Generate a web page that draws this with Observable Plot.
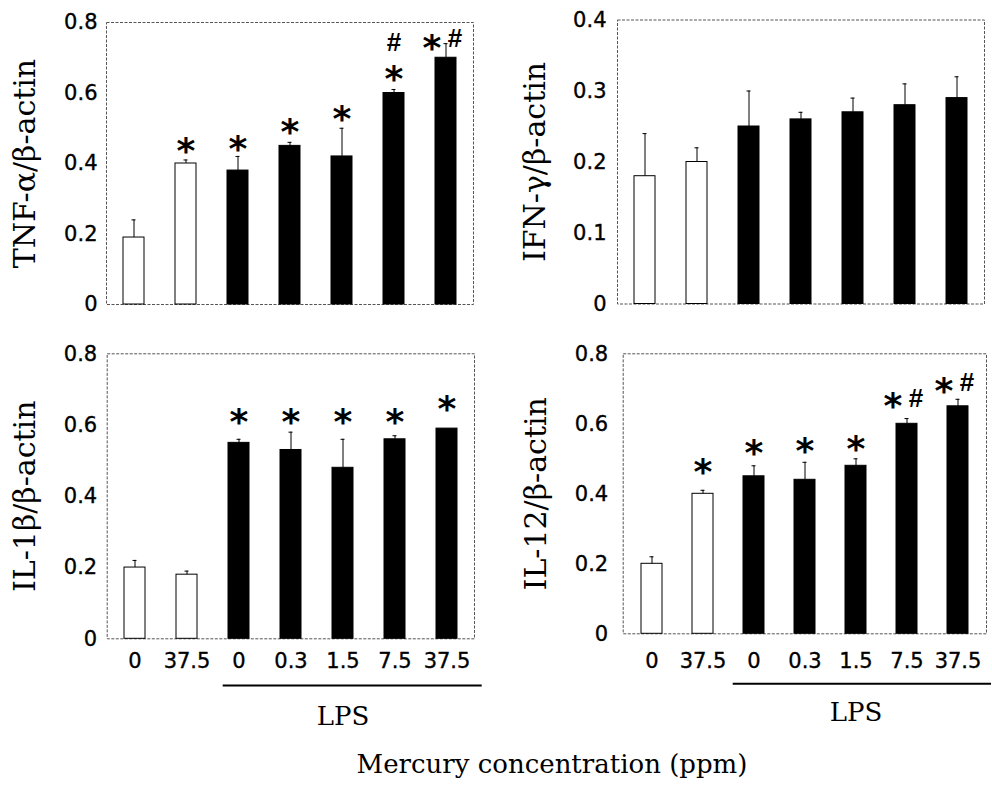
<!DOCTYPE html>
<html>
<head>
<meta charset="utf-8">
<script src="https://cdn.jsdelivr.net/npm/d3@7"></script>
<script src="https://cdn.jsdelivr.net/npm/@observablehq/plot@0.6"></script>
<style>
  html, body { margin: 0; padding: 0; background: white; }
  #wrap { position: relative; width: 992px; height: 785px; overflow: hidden; background: white; }
  #wrap > svg, #wrap > figure { position: absolute; margin: 0; }
  #wrap [aria-label$="tick label"] text { stroke: black; stroke-width: 0.35px; }
</style>
</head>
<body>
<div id="wrap"></div>
<script>
// ---- data ----
const tickLabels = ["0", "37.5", "0", "0.3", "1.5", "7.5", "37.5"];
const groups = ["Hg", "Hg", "LPS", "LPS", "LPS", "LPS", "LPS"];

const tnfMean  = [0.19, 0.40, 0.38, 0.45, 0.42, 0.60, 0.70];
const tnfUpper = [0.24, 0.41, 0.42, 0.46, 0.50, 0.61, 0.74];
const tnfStar  = [null, 0.46, 0.465, 0.513, 0.55, 0.664, 0.752];
const tnfHash  = [null, null, null, null, null, 0.745, 0.757];
const tnfTicks = [0, 0.2, 0.4, 0.6, 0.8];

const ifnMean  = [0.18, 0.20, 0.25, 0.26, 0.27, 0.28, 0.29];
const ifnUpper = [0.24, 0.22, 0.30, 0.27, 0.29, 0.31, 0.32];
const ifnStar  = [null, null, null, null, null, null, null];
const ifnHash  = [null, null, null, null, null, null, null];
const ifnTicks = [0, 0.1, 0.2, 0.3, 0.4];

const il1Mean  = [0.20, 0.18, 0.55, 0.53, 0.48, 0.56, 0.59];
const il1Upper = [0.22, 0.19, 0.56, 0.58, 0.56, 0.57, 0.59];
const il1Star  = [null, null, 0.632, 0.632, 0.632, 0.632, 0.669];
const il1Hash  = [null, null, null, null, null, null, null];
const il1Ticks = [0, 0.2, 0.4, 0.6, 0.8];

const il12Mean  = [0.20, 0.40, 0.45, 0.44, 0.48, 0.60, 0.65];
const il12Upper = [0.22, 0.41, 0.48, 0.49, 0.50, 0.615, 0.67];
const il12Star  = [null, 0.486, 0.541, 0.547, 0.552, 0.676, 0.719];
const il12Hash  = [null, null, null, null, null, 0.674, 0.719];
const il12Ticks = [0, 0.2, 0.4, 0.6, 0.8];

const titles = ["TNF-α/β-actin", "IFN-γ/β-actin", "IL-1β/β-actin", "IL-12/β-actin"];
const groupLabel = "LPS";
const xTitle = "Mercury concentration (ppm)";

// ---- drawing ----
const wrap = document.getElementById("wrap");
const fmt = d => d === 0 ? "0" : String(d);

function panel(cfg) {
  const data = cfg.mean.map((m, i) => ({i, m, u: cfg.upper[i], g: groups[i], s: cfg.star[i], h: cfg.hash[i]}));
  const errs = data.filter(d => d.u > d.m);
  const side = d => d.s != null && d.h != null && Math.abs(d.s - d.h) < 0.05;
  const stars = data.filter(d => d.s != null);
  const hashes = data.filter(d => d.h != null);
  const starOpts = {x: "i", y: "s", text: () => "*", fontSize: 36, fontWeight: "bold", fontFamily: "DejaVu Sans", lineAnchor: "middle", dy: 9};
  const hashOpts = {x: "i", y: "h", text: () => "#", fontSize: 26, fontWeight: "bold", fontFamily: "Liberation Sans", lineAnchor: "middle", dy: 1};
  const marks = [
    Plot.frame({stroke: "#555", strokeWidth: 1, strokeDasharray: "3,1.5"}),
    Plot.axisY({ticks: cfg.ticks, tickSize: 0, tickPadding: cfg.yPad, tickFormat: fmt, label: null, fontSize: 21, fontFamily: "DejaVu Sans"}),
    Plot.barY(data.filter(d => d.g !== "LPS"), {x: "i", y: "m", fill: "white", stroke: "black", strokeWidth: 1}),
    Plot.barY(data.filter(d => d.g === "LPS"), {x: "i", y: "m", fill: "black", stroke: "black", strokeWidth: 1}),
    Plot.ruleX(errs, {x: "i", y1: "m", y2: "u", stroke: "black", strokeWidth: 1}),
    Plot.tickY(errs, {x: "i", y: "u", insetLeft: 8.5, insetRight: 8.5, stroke: "black", strokeWidth: 1}),
    Plot.text(stars.filter(d => !side(d)), starOpts),
    Plot.text(stars.filter(side), {...starOpts, dx: -14}),
    Plot.text(hashes.filter(d => !side(d)), hashOpts),
    Plot.text(hashes.filter(side), {...hashOpts, dx: 9}),
    Plot.text([cfg.title], {frameAnchor: "left", rotate: -90, dx: cfg.titleDx, textAnchor: "middle", lineAnchor: "middle", fontSize: 30, fontFamily: "DejaVu Serif"})
  ];
  if (cfg.showX) {
    marks.push(Plot.axisX({tickSize: 0, tickPadding: cfg.xPad, tickFormat: i => tickLabels[i], label: null, fontSize: 21, fontFamily: "DejaVu Sans"}));
  }
  if (cfg.lps) {
    marks.push(Plot.ruleY([0], {dy: cfg.lps.ruleDy, insetLeft: cfg.lps.insetLeft, insetRight: cfg.lps.insetRight, stroke: "black", strokeWidth: 2}));
    marks.push(Plot.text([{i: 4, y: 0}], {x: "i", y: "y", text: () => groupLabel, dy: cfg.lps.textDy, fontSize: 26, fontFamily: "DejaVu Serif", lineAnchor: "middle"}));
  }
  const svg = Plot.plot({
    width: 496, height: 340,
    marginLeft: cfg.mL, marginRight: cfg.mR, marginTop: cfg.mT, marginBottom: cfg.mB,
    style: {fontFamily: "DejaVu Sans", color: "black", background: "transparent", overflow: "visible"},
    x: {type: "band", domain: d3.range(7), paddingInner: 0.59, paddingOuter: 0.295, axis: null},
    y: {domain: [0, cfg.ticks[cfg.ticks.length - 1]], axis: null},
    marks
  });
  svg.style.left = cfg.left + "px";
  svg.style.top = cfg.top + "px";
  wrap.appendChild(svg);
}

panel({mean: tnfMean, upper: tnfUpper, star: tnfStar, hash: tnfHash, ticks: tnfTicks, title: titles[0],
  left: 0, top: 0, mL: 106, mR: 23, mT: 22, mB: 36, yPad: 9, titleDx: -81, showX: false});
panel({mean: ifnMean, upper: ifnUpper, star: ifnStar, hash: ifnHash, ticks: ifnTicks, title: titles[1],
  left: 496, top: 0, mL: 121, mR: 8, mT: 19.5, mB: 36.5, yPad: 11, titleDx: -82, showX: false});
panel({mean: il1Mean, upper: il1Upper, star: il1Star, hash: il1Hash, ticks: il1Ticks, title: titles[2],
  left: 0, top: 340, mL: 106.7, mR: 22, mT: 13.3, mB: 41.7, yPad: 10, xPad: 14, titleDx: -82, showX: true,
  lps: {ruleDy: 46.7, insetLeft: 116, insetRight: -7.7, textDy: 78}});
panel({mean: il12Mean, upper: il12Upper, star: il12Star, hash: il12Hash, ticks: il12Ticks, title: titles[3],
  left: 496, top: 340, mL: 126.7, mR: 6, mT: 13.3, mB: 46.7, yPad: 15, xPad: 19, titleDx: -87, showX: true,
  lps: {ruleDy: 50, insetLeft: 110, insetRight: -5, textDy: 79}});

// overall x title
const cap = d3.select(wrap).append("svg")
  .attr("width", 992).attr("height", 785)
  .style("left", "0px").style("top", "0px").style("pointer-events", "none");
cap.append("text")
  .attr("x", 552).attr("y", 773)
  .attr("text-anchor", "middle")
  .attr("font-family", "DejaVu Serif")
  .attr("font-size", 26)
  .attr("fill", "black")
  .text(xTitle);
</script>
</body>
</html>
